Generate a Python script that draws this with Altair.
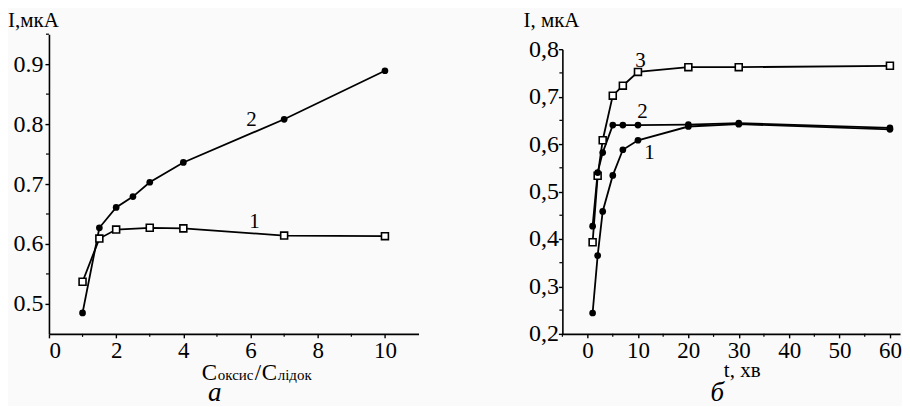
import altair as alt
import pandas as pd

FONT = "Liberation Serif"

# ---------- panel a ----------
a_x1 = [1, 1.5, 2, 3, 4, 7, 10]
a_y1 = [0.537, 0.609, 0.624, 0.627, 0.626, 0.614, 0.613]
a_x2 = [1, 1.5, 2, 2.5, 3, 4, 7, 10]
a_y2 = [0.485, 0.627, 0.661, 0.679, 0.703, 0.736, 0.808, 0.889]
a_xticks = [0, 2, 4, 6, 8, 10]
a_xminor = [1, 3, 5, 7, 9]
a_yticks = [0.5, 0.6, 0.7, 0.8, 0.9]
a_yminor = [0.55, 0.65, 0.75, 0.85, 0.95]
a_lab_text = ["2", "1"]
a_lab_x = [6.03, 6.12]
a_lab_y = [0.797, 0.627]

# ---------- panel b ----------
b_t = [1, 2, 3, 5, 7, 10, 20, 30, 60]
b_y1 = [0.244, 0.365, 0.458, 0.534, 0.588, 0.608, 0.637, 0.642, 0.631]
b_y2 = [0.427, 0.540, 0.582, 0.640, 0.640, 0.640, 0.641, 0.644, 0.634]
b_y3 = [0.393, 0.533, 0.608, 0.702, 0.723, 0.752, 0.762, 0.762, 0.765]
b_xticks = [0, 10, 20, 30, 40, 50, 60]
b_xminor = [-5, 5, 15, 25, 35, 45, 55]
b_yticks = [0.2, 0.3, 0.4, 0.5, 0.6, 0.7, 0.8]
b_yminor = [0.25, 0.35, 0.45, 0.55, 0.65, 0.75]
b_lab_text = ["3", "2", "1"]
b_lab_x = [10.5, 10.9, 12.3]
b_lab_y = [0.762, 0.655, 0.568]

A_W, A_H = 370, 300
B_W, B_H = 338, 300
B_TOP = 15  # right panel axis starts lower than the left one


def text_at(txt, x, y, size, align="left", style="normal", baseline="alphabetic"):
    return alt.Chart(pd.DataFrame({"t": [txt]})).mark_text(
        font=FONT, fontSize=size, fontStyle=style, align=align,
        baseline=baseline, color="black"
    ).encode(x=alt.value(x), y=alt.value(y), text="t:N")


def build_panel(series, xdom, ydom, xticks, yticks, xminor, yminor, W, H,
                ylabel_expr, labels, top=0, ylabpad=2):
    xs = alt.X("x:Q", scale=alt.Scale(domain=xdom, nice=False, zero=False),
               axis=alt.Axis(values=xticks, title=None, format="d",
                             labelFont=FONT, labelFontSize=23, labelPadding=2))
    ys = alt.Y("y:Q", scale=alt.Scale(domain=ydom, nice=False, zero=False,
                                      range=[H, top]),
               axis=alt.Axis(values=yticks, title=None, labelExpr=ylabel_expr,
                             labelFont=FONT, labelFontSize=24,
                             labelPadding=ylabpad, labelBaseline="middle"))
    rows = []
    for name, xv, yv, shape in series:
        for a, b in zip(xv, yv):
            rows.append({"s": name, "x": a, "y": b, "shape": shape})
    df = pd.DataFrame(rows)
    lines = alt.Chart(df).mark_line(color="black", strokeWidth=1.8).encode(
        x=xs, y=ys, detail="s:N")
    sq = alt.Chart(df[df["shape"] == "square"]).mark_point(
        shape="square", filled=True, fill="white", stroke="black",
        strokeWidth=1.6, size=48, opacity=1).encode(x=xs, y=ys)
    ci = alt.Chart(df[df["shape"] == "circle"]).mark_circle(
        color="black", size=45, opacity=1).encode(x=xs, y=ys)
    mx = alt.Chart(pd.DataFrame({"x": xminor})).mark_rule(
        color="black", strokeWidth=1.2).encode(
        x=xs, y=alt.value(H), y2=alt.value(H + 3))
    my = alt.Chart(pd.DataFrame({"y": yminor})).mark_rule(
        color="black", strokeWidth=1.2).encode(
        y=ys, x=alt.value(0), x2=alt.value(-3))
    lt, lx, ly = labels
    lab = alt.Chart(pd.DataFrame({"t": lt, "x": lx, "y": ly})).mark_text(
        font=FONT, fontSize=21, align="center", baseline="alphabetic",
        color="black").encode(x=xs, y=ys, text="t:N")
    return [lines, sq, ci, mx, my, lab]


a_layers = build_panel(
    [("1", a_x1, a_y1, "square"), ("2", a_x2, a_y2, "circle")],
    [0, 11], [0.45, 0.95], a_xticks, a_yticks, a_xminor, a_yminor,
    A_W, A_H, "format(datum.value, '.1f')", (a_lab_text, a_lab_x, a_lab_y))
a_layers += [
    text_at("I,мкА", -41, -7, 21),
    text_at("C", 153, 346, 23),
    text_at("оксис", 169, 346, 15),
    text_at("/", 206, 346, 23),
    text_at("C", 213, 346, 23),
    text_at("лідок", 229, 346, 15),
    text_at("а", 166, 367, 27, align="center", style="italic"),
]
chart_a = alt.layer(*a_layers).properties(width=A_W, height=A_H)

b_layers = build_panel(
    [("1", b_t, b_y1, "circle"), ("2", b_t, b_y2, "circle"),
     ("3", b_t, b_y3, "square")],
    [-5, 62], [0.2, 0.8], b_xticks, b_yticks, b_xminor, b_yminor,
    B_W, B_H, "replace(format(datum.value, '.1f'), '.', ',')",
    (b_lab_text, b_lab_x, b_lab_y), top=B_TOP, ylabpad=0)
b_layers += [
    text_at("I, мкА", -39, -7, 21),
    text_at("t, хв", 180, 343, 21, align="center"),
    text_at("б", 155, 367, 27, align="center", style="italic"),
]
chart_b = alt.layer(*b_layers).properties(width=B_W, height=B_H)

chart = alt.hconcat(chart_a, chart_b, spacing=105).properties(
    padding={"left": 0, "top": 2, "right": 0, "bottom": 0},
    background="#fafafa",
).configure_view(stroke=None).configure_axis(
    domainColor="black", domainWidth=1.6, tickColor="black", tickWidth=1.4,
    tickSize=4, labelFont=FONT, labelFontSize=24, labelColor="black",
    labelPadding=2, grid=False, labelOverlap=False,
)

chart.save("out.html", embed_options={"renderer": "svg", "actions": False})
